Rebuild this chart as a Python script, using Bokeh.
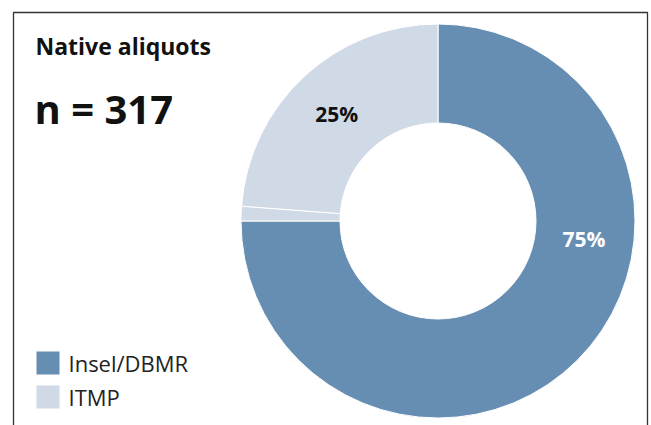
import math
from bokeh.plotting import figure
from bokeh.models import Range1d, ColumnDataSource
from bokeh.core.properties import value
from bokeh.embed import file_html
from bokeh.resources import INLINE

# ---- data ----
title_text = "Native aliquots"
n_text = "n = 317"
slice_groups = ["Insel/DBMR", "ITMP", "ITMP"]
slice_values = [75.0, 1.2, 23.8]
legend_names = ["Insel/DBMR", "ITMP"]
legend_colors = ["#668DB2", "#D0D9E6"]
label_texts = ["75%", "25%"]
label_colors = ["#FFFFFF", "#111111"]

color_of = dict(zip(legend_names, legend_colors))

# ---- layout ----
W, H = 651, 425
FONT = "Open Sans"
cx, cy = 437.5, 204.5
R_OUT, R_IN = 197, 98
label_r = 147
label_angles_deg = [-7.0, 133.5]

p = figure(width=W, height=H, output_backend="svg", toolbar_location=None,
           x_range=Range1d(0, W), y_range=Range1d(0, H), min_border=0)
p.axis.visible = False
p.grid.visible = False
p.outline_line_color = None
p.background_fill_color = "white"
p.border_fill_color = "white"

# donut slices
total = sum(slice_values)
starts, ends, cols = [], [], []
cum = 0.0
for g, v in zip(slice_groups, slice_values):
    a_end = math.radians(90 - cum / total * 360)
    cum += v
    a_start = math.radians(90 - cum / total * 360)
    starts.append(a_start)
    ends.append(a_end)
    cols.append(color_of[g])
src = ColumnDataSource(dict(x=[cx] * len(slice_values), y=[cy] * len(slice_values),
                            s=starts, e=ends, c=cols))
p.annular_wedge(x="x", y="y", inner_radius=R_IN, outer_radius=R_OUT,
                start_angle="s", end_angle="e", fill_color="c",
                line_color="white", line_width=1, source=src)

# percentage labels
lx = [cx + label_r * math.cos(math.radians(a)) for a in label_angles_deg]
ly = [cy + label_r * math.sin(math.radians(a)) for a in label_angles_deg]
p.text(x=lx, y=ly, text=label_texts, text_color=label_colors,
       text_font=value(FONT), text_font_style="bold", text_font_size="21px",
       text_align="center", text_baseline="middle")

# frame
p.line(x=[13, 13, 647, 647], y=[-5, 413, 413, -5], line_color="#333333", line_width=1.3)

# title and n
p.text(x=[35], y=[380], text=[title_text], text_font=value(FONT), text_font_style="bold",
       text_font_size="23px", text_color="#111111", text_baseline="middle")
p.text(x=[34], y=[317], text=[n_text], text_font=value(FONT), text_font_style="bold",
       text_font_size="40px", text_color="#111111", text_baseline="middle")

# legend
leg_y = [62.5, 28.5]
p.rect(x=[47.5] * 2, y=leg_y, width=23, height=23, width_units="screen",
       height_units="screen", fill_color=legend_colors, line_color=None)
p.text(x=[68] * 2, y=leg_y, text=legend_names, text_font=value(FONT),
       text_font_size="22px", text_color="#222222", text_baseline="middle")

open("out.html", "w").write(file_html(p, INLINE))
